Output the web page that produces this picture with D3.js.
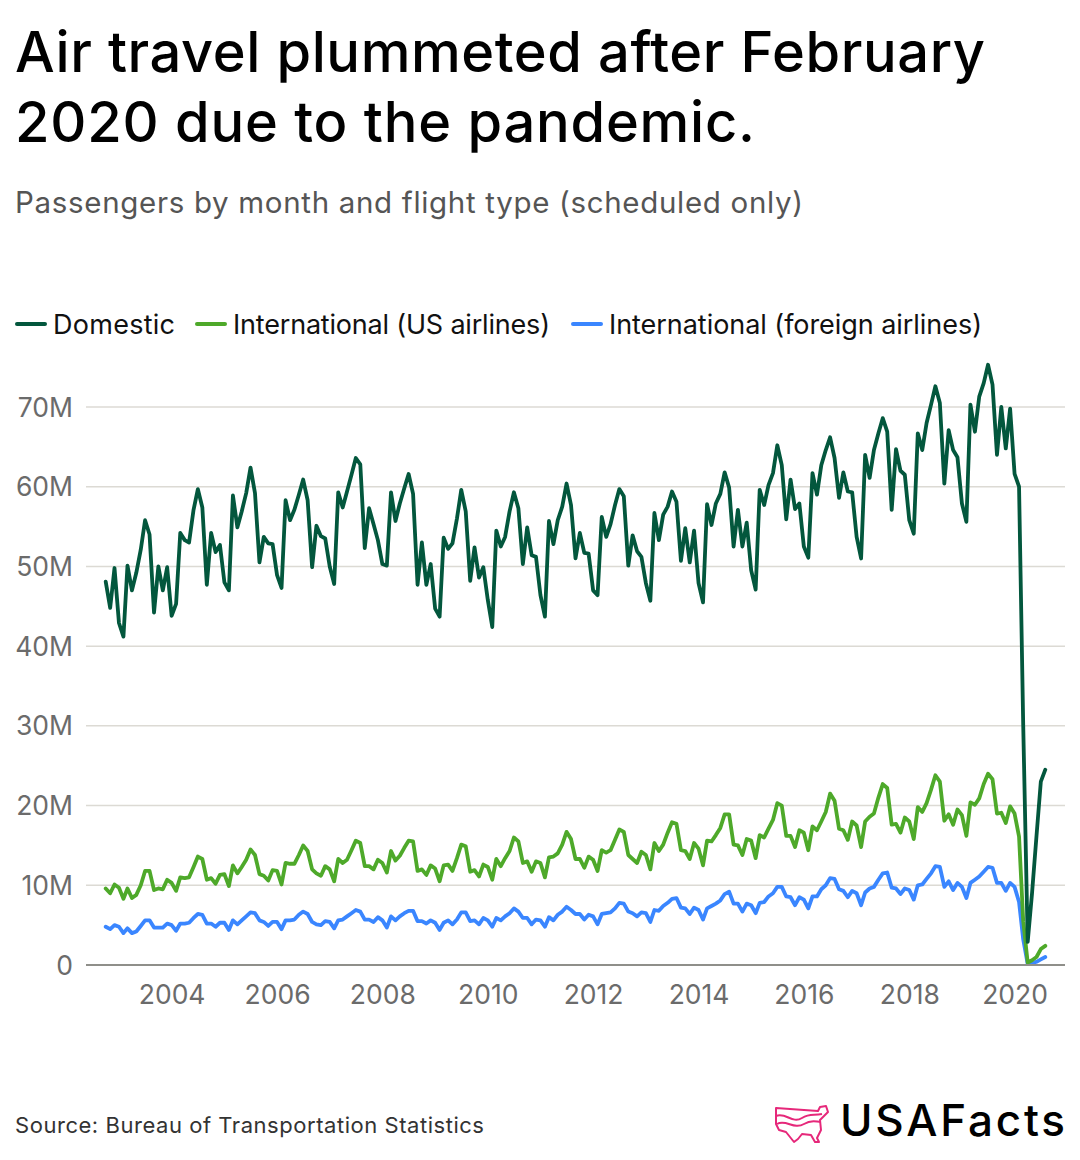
<!DOCTYPE html>
<html>
<head>
<meta charset="utf-8">
<script src="https://cdn.jsdelivr.net/npm/d3@7"></script>
<style>
  html, body { margin: 0; padding: 0; background: #ffffff; }
  svg { display: block; font-family: Inter, "Noto Sans", sans-serif; }
</style>
</head>
<body>
<svg id="chart" width="1080" height="1160"></svg>
<script>
// ---------------- DATA ----------------
const startMonth = "2002-10";   // first month of the series
const endMonth = "2020-08";     // last month of the series

// Domestic passengers (millions), monthly Oct 2002 – Aug 2020
const domestic = [
  48.1, 44.8, 49.8,
  42.9, 41.2, 50.1, 47.0, 49.2, 52.1, 55.8, 54.0, 44.2, 50.0, 47.0, 49.9,
  43.8, 45.3, 54.2, 53.3, 53.0, 57.1, 59.7, 57.4, 47.7, 54.2, 51.8, 52.7,
  48.0, 47.0, 58.9, 54.9, 56.9, 59.2, 62.4, 59.2, 50.5, 53.7, 52.9, 52.8,
  48.9, 47.3, 58.3, 55.8, 57.1, 59.0, 60.9, 58.3, 49.9, 55.1, 53.8, 53.5,
  50.0, 47.8, 59.3, 57.4, 59.4, 61.5, 63.6, 62.8, 52.3, 57.3, 55.3, 53.3,
  50.3, 50.1, 59.3, 55.7, 57.9, 59.8, 61.6, 59.1, 47.7, 53.0, 47.7, 50.3,
  44.7, 43.7, 53.6, 52.2, 52.9, 56.0, 59.6, 56.9, 48.2, 52.4, 48.6, 49.9,
  45.8, 42.4, 54.5, 52.5, 53.7, 56.9, 59.3, 57.3, 50.3, 54.9, 51.4, 51.2,
  46.4, 43.7, 55.7, 52.8, 55.8, 57.5, 60.4, 57.7, 51.0, 54.2, 51.7, 51.6,
  47.0, 46.4, 56.2, 53.7, 55.3, 57.7, 59.7, 58.8, 50.1, 53.9, 51.9, 51.2,
  47.9, 45.7, 56.7, 53.3, 56.5, 57.5, 59.4, 58.1, 50.7, 54.8, 50.5, 54.5,
  47.9, 45.5, 57.8, 55.2, 57.9, 59.1, 61.8, 59.9, 52.5, 57.1, 52.5, 55.5,
  49.5, 47.1, 59.6, 57.7, 60.2, 61.7, 65.2, 62.7, 55.9, 60.9, 57.2, 57.9,
  52.5, 51.1, 61.7, 59.0, 62.7, 64.6, 66.2, 63.6, 58.6, 61.8, 59.4, 59.3,
  53.7, 51.0, 64.0, 61.1, 64.6, 66.7, 68.6, 66.9, 57.1, 64.7, 62.0, 61.5,
  55.8, 54.1, 66.7, 64.6, 68.0, 70.3, 72.6, 70.5, 60.4, 67.1, 64.6, 63.7,
  57.9, 55.6, 70.3, 66.9, 71.3, 73.0, 75.3, 72.8, 64.0, 70.0, 64.8, 69.8,
  61.6, 60.0, 30.0, 2.9, 9.0, 16.2, 23.0, 24.5
];

// International passengers on US airlines (millions)
const intlUS = [
  9.6, 9.0, 10.1,
  9.7, 8.3, 9.6, 8.4, 8.8, 10.0, 11.8, 11.8, 9.4, 9.6, 9.5, 10.7,
  10.3, 9.3, 11.0, 10.9, 11.0, 12.3, 13.6, 13.3, 10.7, 10.9, 10.2, 11.3,
  11.4, 9.9, 12.5, 11.5, 12.3, 13.2, 14.5, 13.8, 11.4, 11.2, 10.6, 11.9,
  11.8, 10.1, 12.8, 12.7, 12.7, 13.8, 15.0, 14.3, 12.0, 11.5, 11.2, 12.4,
  12.0, 10.5, 13.3, 12.8, 13.2, 14.4, 15.6, 15.3, 12.4, 12.4, 12.0, 13.2,
  12.8, 11.6, 14.3, 13.1, 13.7, 14.7, 15.6, 15.5, 11.8, 12.0, 11.3, 12.5,
  12.1, 10.5, 12.5, 12.6, 11.8, 13.4, 15.1, 14.9, 11.7, 11.9, 11.1, 12.6,
  12.3, 10.7, 13.3, 12.4, 13.4, 14.3, 16.0, 15.5, 12.8, 13.0, 11.7, 13.0,
  12.8, 11.0, 13.5, 13.6, 14.0, 15.1, 16.7, 15.8, 13.3, 13.3, 12.2, 13.6,
  13.2, 11.8, 14.4, 14.1, 14.4, 15.7, 17.0, 16.7, 13.8, 13.3, 12.8, 14.2,
  13.8, 12.0, 15.3, 14.3, 15.1, 16.6, 17.9, 17.7, 14.4, 14.3, 13.3, 15.3,
  14.6, 12.5, 15.6, 15.5, 16.3, 17.2, 18.9, 18.9, 15.1, 15.0, 13.8, 15.8,
  15.6, 13.4, 16.3, 16.0, 17.1, 18.2, 20.3, 20.0, 16.2, 16.2, 14.8, 16.9,
  16.6, 14.4, 17.4, 16.9, 18.0, 19.2, 21.5, 20.6, 17.1, 16.9, 15.7, 18.0,
  17.5, 14.8, 18.0, 18.6, 19.0, 21.0, 22.7, 22.2, 17.6, 17.7, 16.6, 18.5,
  18.0, 15.8, 19.8, 19.2, 20.3, 22.0, 23.8, 23.0, 18.1, 18.9, 17.6, 19.5,
  18.8, 16.2, 20.4, 20.1, 20.9, 22.7, 24.0, 23.3, 19.0, 19.1, 17.8, 19.9,
  19.0, 16.1, 5.5, 0.3, 0.6, 1.0, 2.0, 2.4
];

// International passengers on foreign airlines (millions)
const intlForeign = [
  4.8, 4.5, 5.0,
  4.8, 4.0, 4.6, 4.0, 4.2, 4.9, 5.6, 5.6, 4.7, 4.7, 4.7, 5.2,
  5.0, 4.3, 5.2, 5.2, 5.3, 5.9, 6.4, 6.3, 5.2, 5.2, 4.8, 5.3,
  5.3, 4.4, 5.6, 5.1, 5.6, 6.1, 6.6, 6.5, 5.6, 5.4, 4.9, 5.4,
  5.4, 4.5, 5.6, 5.6, 5.7, 6.3, 6.7, 6.4, 5.4, 5.1, 5.0, 5.5,
  5.4, 4.6, 5.6, 5.7, 6.1, 6.5, 6.9, 6.7, 5.7, 5.7, 5.4, 6.0,
  5.6, 4.7, 6.1, 5.6, 6.1, 6.5, 6.8, 6.8, 5.5, 5.5, 5.2, 5.6,
  5.3, 4.4, 5.3, 5.6, 5.1, 5.7, 6.6, 6.6, 5.5, 5.6, 5.1, 5.9,
  5.6, 4.8, 5.9, 5.6, 6.1, 6.5, 7.1, 6.7, 5.9, 5.9, 5.1, 5.7,
  5.6, 4.8, 6.0, 5.6, 6.3, 6.7, 7.3, 6.9, 6.4, 6.4, 5.7, 6.3,
  6.1, 5.1, 6.4, 6.5, 6.6, 7.1, 7.8, 7.7, 6.7, 6.5, 6.1, 6.6,
  6.5, 5.4, 6.9, 6.8, 7.4, 7.8, 8.3, 8.4, 7.2, 7.1, 6.4, 7.2,
  6.9, 5.7, 7.1, 7.4, 7.7, 8.1, 8.9, 9.2, 7.7, 7.7, 6.7, 7.7,
  7.5, 6.5, 7.8, 7.9, 8.6, 9.0, 9.8, 9.8, 8.6, 8.5, 7.5, 8.5,
  8.2, 7.1, 8.6, 8.6, 9.5, 10.0, 10.9, 10.8, 9.5, 9.3, 8.5, 9.3,
  9.0, 7.5, 9.1, 9.6, 9.8, 10.7, 11.5, 11.6, 9.7, 9.6, 8.9, 9.6,
  9.4, 8.2, 10.0, 10.1, 10.8, 11.5, 12.4, 12.3, 9.8, 10.5, 9.4, 10.3,
  9.8, 8.4, 10.3, 10.7, 11.1, 11.7, 12.3, 12.2, 10.3, 10.3, 9.3, 10.3,
  9.8, 7.9, 3.2, 0.1, 0.2, 0.4, 0.7, 1.0
];

const seriesNames = ["Domestic", "International (US airlines)", "International (foreign airlines)"];
const seriesColors = ["#03573d", "#4ea92a", "#3a86ff"];
const yTickValues = [0, 10, 20, 30, 40, 50, 60, 70];
const yTickLabels = ["0", "10M", "20M", "30M", "40M", "50M", "60M", "70M"];
const xTickYears = [2004, 2006, 2008, 2010, 2012, 2014, 2016, 2018, 2020];

// ---------------- CHART ----------------
const svg = d3.select("#chart");
const parseMonth = d3.timeParse("%Y-%m");
const months = d3.timeMonth.range(parseMonth(startMonth), d3.timeMonth.offset(parseMonth(endMonth), 1));

// stretch a text to a target width with letter-spacing
function fitWidth(sel, target) {
  const node = sel.node();
  const n = sel.text().length;
  const w = node.getComputedTextLength();
  if (n > 1) sel.attr("letter-spacing", (target - w) / (n - 1));
  return sel;
}

const plotLeft = 86, plotRight = 1065;
const x = d3.scaleTime()
  .domain([parseMonth(startMonth), parseMonth(endMonth)])
  .range([105.7, 1045.3]);
const y = d3.scaleLinear().domain([0, 70]).range([965, 407]);

// Title
fitWidth(svg.append("text").attr("x", 15).attr("y", 72)
  .attr("font-size", 56).attr("font-weight", 500).attr("fill", "#000")
  .text("Air travel plummeted after February"), 970);
fitWidth(svg.append("text").attr("x", 15).attr("y", 142)
  .attr("font-size", 56).attr("font-weight", 500).attr("fill", "#000")
  .text("2020 due to the pandemic."), 740);

// Subtitle
fitWidth(svg.append("text").attr("x", 15).attr("y", 213)
  .attr("font-size", 29.5).attr("font-weight", 400).attr("fill", "#555555")
  .text("Passengers by month and flight type (scheduled only)"), 788);

// Legend
const legendX = [15, 195, 571];
const legendTextW = [122, 317, 373];
const legend = svg.append("g");
seriesNames.forEach((name, i) => {
  const g = legend.append("g").attr("transform", `translate(${legendX[i]},324)`);
  g.append("line").attr("x1", 2).attr("x2", 30).attr("y1", 0).attr("y2", 0)
    .attr("stroke", seriesColors[i]).attr("stroke-width", 4).attr("stroke-linecap", "round");
  fitWidth(g.append("text").attr("x", 38).attr("y", 9.5)
    .attr("font-size", 27).attr("fill", "#111").text(name), legendTextW[i]);
});

// Y grid + labels
const yAxis = svg.append("g");
yAxis.selectAll("line.grid").data(yTickValues.filter(v => v > 0)).join("line")
  .attr("class", "grid")
  .attr("x1", plotLeft).attr("x2", plotRight)
  .attr("y1", d => y(d)).attr("y2", d => y(d))
  .attr("stroke", "#dcdad4").attr("stroke-width", 1.5);
yAxis.selectAll("text").data(yTickValues).join("text")
  .attr("x", 73).attr("y", d => y(d)).attr("dy", "0.36em")
  .attr("text-anchor", "end").attr("font-size", 26.5).attr("fill", "#6b6b6b")
  .text((d, i) => yTickLabels[i]);

// X axis
const xAxis = d3.axisBottom(x)
  .tickValues(xTickYears.map(yr => new Date(yr, 0, 1)))
  .tickFormat(d3.timeFormat("%Y"))
  .tickSize(0).tickPadding(14);
const xg = svg.append("g").attr("transform", `translate(0,${y(0)})`).call(xAxis);
xg.select(".domain").remove();
xg.selectAll("text").attr("font-size", 26.5).attr("fill", "#6b6b6b")
  .attr("font-family", "Inter, 'Noto Sans', sans-serif").attr("dy", "0.95em");

// Lines
const line = d3.line().x((d, i) => x(months[i])).y(d => y(d)).curve(d3.curveLinear);
const allSeries = [domestic, intlUS, intlForeign];
const drawOrder = [2, 1, 0];
drawOrder.forEach(i => {
  svg.append("path").datum(allSeries[i])
    .attr("d", line)
    .attr("fill", "none")
    .attr("stroke", seriesColors[i])
    .attr("stroke-width", 3.8)
    .attr("stroke-linejoin", "round")
    .attr("stroke-linecap", "round");
});

// Baseline
svg.append("line").attr("x1", plotLeft).attr("x2", plotRight)
  .attr("y1", y(0)).attr("y2", y(0))
  .attr("stroke", "#8f8f8a").attr("stroke-width", 2);

// Footer
fitWidth(svg.append("text").attr("x", 15).attr("y", 1133)
  .attr("font-size", 22).attr("fill", "#333").text("Source: Bureau of Transportation Statistics"), 469);

// Logo
const logo = svg.append("g").attr("transform", "translate(774,1104)");
logo.append("path")
  .attr("d", "M2,4 L30,6 L44,7 L46,3 L52,2 L54,8 L50,12 L46,16 L47,26 L43,34 L45,38 L41,38 L37,31 L28,30 L24,35 L20,38 L16,33 L12,28 L5,26 L2,20 Z")
  .attr("fill", "none").attr("stroke", "#e6287a").attr("stroke-width", 2).attr("stroke-linejoin", "round");
logo.append("path")
  .attr("d", "M2,12 C12,8 18,20 28,14 C36,9 40,12 48,10")
  .attr("fill", "none").attr("stroke", "#e6287a").attr("stroke-width", 2);
logo.append("path")
  .attr("d", "M3,20 C12,15 20,26 30,20 C38,15 42,18 47,18")
  .attr("fill", "none").attr("stroke", "#e6287a").attr("stroke-width", 2);
fitWidth(svg.append("text").attr("x", 840).attr("y", 1136)
  .attr("font-size", 44).attr("font-weight", 500).attr("fill", "#000")
  .text("USAFacts"), 225);
</script>
</body>
</html>
